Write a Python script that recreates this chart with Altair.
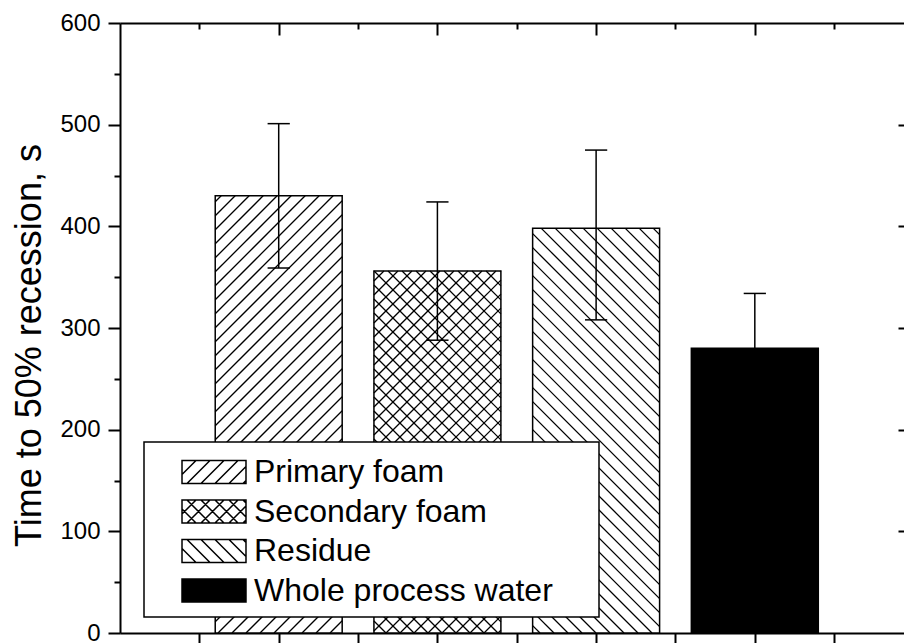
import altair as alt
import numpy as np
import pandas as pd

# Time to 50 % foam recession for each process-water fraction
categories = ["Primary foam", "Secondary foam", "Residue", "Whole process water"]
mean_time = [430, 356, 398, 280]
err_upper = [71, 68, 77, 54]
err_lower = [71, 68, 90, 54]
bar_position = [1, 2, 3, 4]
bar_fill = ["white", "white", "white", "black"]
hatch_style = ["forward", "cross", "backward", "none"]

# axis ticks
y_major = [0, 100, 200, 300, 400, 500, 600]
y_minor = [50, 150, 250, 350, 450, 550]
x_major = [1, 2, 3, 4]
x_minor = [0.5, 1.5, 2.5, 3.5, 4.5]
x_all = sorted(x_major + x_minor)

X_DOMAIN = [0, 4.94]
Y_DOMAIN = [0, 600]
PLOT_W, PLOT_H = 784, 610
BAR_HALF = 0.4      # half bar width in x units
CAP_HALF = 0.07     # half error-cap width in x units
HATCH_STEP = 14.0   # horizontal distance between hatch lines, px
FONT = "Liberation Sans, Arial, sans-serif"

px_x = PLOT_W / (X_DOMAIN[1] - X_DOMAIN[0])
px_y = PLOT_H / (Y_DOMAIN[1] - Y_DOMAIN[0])


def hatch_lines(x_lo, x_hi, top, direction):
    """45-degree hatch segments clipped to a bar, returned in data units."""
    u0, u1, h = x_lo * px_x, x_hi * px_x, top * px_y
    out = []
    if direction == "forward":
        k0 = int(np.floor((u0 - h) / HATCH_STEP))
        k1 = int(np.ceil(u1 / HATCH_STEP))
        for k in range(k0, k1 + 1):
            c = k * HATCH_STEP
            lo, hi = max(u0, c), min(u1, c + h)
            if hi - lo > 0.5:
                out.append((lo / px_x, (lo - c) / px_y, hi / px_x, (hi - c) / px_y))
    else:
        k0 = int(np.floor(u0 / HATCH_STEP))
        k1 = int(np.ceil((u1 + h) / HATCH_STEP))
        for k in range(k0, k1 + 1):
            c = k * HATCH_STEP
            lo, hi = max(u0, c - h), min(u1, c)
            if hi - lo > 0.5:
                out.append((lo / px_x, (c - lo) / px_y, hi / px_x, (c - hi) / px_y))
    return out


# bars
bars = pd.DataFrame({
    "cat": categories,
    "pos": bar_position,
    "mean": mean_time,
    "fillc": bar_fill,
})
bars["lo"] = bars["pos"] - BAR_HALF
bars["hi"] = bars["pos"] + BAR_HALF
bars["base"] = 0

# hatch texture
rows = []
for cat, pos, m, style in zip(categories, bar_position, mean_time, hatch_style):
    dirs = {"forward": ["forward"], "backward": ["backward"],
            "cross": ["forward", "backward"], "none": []}[style]
    for d in dirs:
        for x1, y1, x2, y2 in hatch_lines(pos - BAR_HALF, pos + BAR_HALF, m, d):
            rows.append({"cat": cat, "x": x1, "y": y1, "x2": x2, "y2": y2})
hatch = pd.DataFrame(rows)

# error bars
errs = pd.DataFrame({
    "cat": categories,
    "pos": bar_position,
    "top": [m + e for m, e in zip(mean_time, err_upper)],
    "bot": [m - e for m, e in zip(mean_time, err_lower)],
})
caps = pd.concat([
    errs.assign(yc=errs["top"]),
    errs.assign(yc=errs["bot"]),
])
caps["c_lo"] = caps["pos"] - CAP_HALF
caps["c_hi"] = caps["pos"] + CAP_HALF

# legend swatches as custom symbol paths (unit = half symbol size)
SYM_R = 19.0
SW_HALF_W, SW_HALF_H = 32.0, 11.5


def swatch_path(style):
    def p(x, y):
        return f"{x / SYM_R:.3f},{y / SYM_R:.3f}"
    a, b = SW_HALF_W, SW_HALF_H
    d = f"M{p(-a, -b)}L{p(a, -b)}L{p(a, b)}L{p(-a, b)}Z"
    dirs = {"forward": [1], "backward": [-1], "cross": [1, -1], "none": []}[style]
    for sgn in dirs:
        c = -a - b
        while c <= a + b:
            lo, hi = max(-a, c - b), min(a, c + b)
            if hi - lo > 0.5:
                d += f"M{p(lo, -sgn * (lo - c))}L{p(hi, -sgn * (hi - c))}"
            c += HATCH_STEP
    return d


legend_df = pd.DataFrame({"cat": categories, "x": [-1.0] * 4, "y": [0.0] * 4})

xs = alt.Scale(domain=X_DOMAIN, nice=False, zero=False)
ys = alt.Scale(domain=Y_DOMAIN, nice=False, zero=False)

axis_common = dict(labels=False, title=None, grid=False, tickColor="black",
                   domainColor="black", tickWidth=2, domainWidth=2)

x_bottom = alt.Axis(values=x_all, tickSize=10, domain=True, **axis_common)
x_top_major = alt.Axis(orient="bottom", offset=-PLOT_H, values=x_major, tickSize=12,
                       domain=True, **axis_common)
x_top_minor = alt.Axis(orient="bottom", offset=-PLOT_H, values=x_minor, tickSize=6,
                       domain=False, **axis_common)

y_left_major = alt.Axis(
    values=y_major, tickSize=12, domain=True, grid=False,
    tickColor="black", domainColor="black", tickWidth=2, domainWidth=2,
    labelFont=FONT, labelFontSize=24, labelColor="black", labelPadding=8,
    title="Time to 50% recession, s", titleFont=FONT, titleFontSize=36,
    titleFontWeight="normal", titleColor="black", titlePadding=11, titleY=322,
)
y_left_minor = alt.Axis(orient="left", values=y_minor, tickSize=6, domain=False,
                        **axis_common)
y_right = alt.Axis(orient="left", offset=-PLOT_W, values=y_major[1:-1], tickSize=6,
                   domain=False, **axis_common)

bar_layer = alt.Chart(bars).mark_rect(stroke="black", strokeWidth=1.5).encode(
    x=alt.X("lo:Q", scale=xs, axis=x_bottom),
    x2="hi:Q",
    y=alt.Y("mean:Q", scale=ys, axis=y_left_major),
    y2="base:Q",
    fill=alt.Fill("fillc:N", scale=None),
)

hatch_layer = alt.Chart(hatch).mark_rule(color="black", strokeWidth=1.3).encode(
    x=alt.X("x:Q", scale=xs, axis=x_top_major),
    x2="x2:Q",
    y=alt.Y("y:Q", scale=ys, axis=y_left_minor),
    y2="y2:Q",
)

err_layer = alt.Chart(errs).mark_rule(color="black", strokeWidth=1.5).encode(
    x=alt.X("pos:Q", scale=xs, axis=x_top_minor),
    y=alt.Y("bot:Q", scale=ys, axis=y_right),
    y2="top:Q",
)

cap_layer = alt.Chart(caps).mark_rule(color="black", strokeWidth=1.5).encode(
    x=alt.X("c_lo:Q", scale=xs, axis=None),
    x2="c_hi:Q",
    y=alt.Y("yc:Q", scale=ys, axis=None),
)

# the label ends in a zero-width space so the padding spaces are not trimmed
legend_layer = alt.Chart(legend_df).mark_point(
    filled=True, stroke="black", strokeWidth=1.5, opacity=1, size=SYM_R ** 2 * 4, clip=True
).encode(
    x=alt.X("x:Q", scale=xs, axis=None),
    y=alt.Y("y:Q", scale=ys, axis=None),
    fill=alt.Fill("cat:N", sort=categories,
                  scale=alt.Scale(domain=categories, range=bar_fill)),
    shape=alt.Shape(
        "cat:N", sort=categories,
        scale=alt.Scale(domain=categories, range=[swatch_path(s) for s in hatch_style]),
        legend=alt.Legend(
            title=None, orient="none", legendX=24, legendY=419,
            symbolSize=SYM_R ** 2 * 4, symbolStrokeWidth=1.5, symbolStrokeColor="black",
            symbolOpacity=1, symbolOffset=40, labelOffset=20,
            labelExpr="datum.label + '\u00a0\u00a0\u00a0\u00a0\u200b'",
            labelFont=FONT, labelFontSize=32, labelColor="black", labelLimit=0,
            rowPadding=3.5, padding=10, strokeColor="black", fillColor="white",
            cornerRadius=0,
        ),
    ),
)

chart = alt.layer(
    bar_layer, hatch_layer, err_layer, cap_layer, legend_layer
).resolve_axis(
    x="independent", y="independent"
).properties(
    width=PLOT_W, height=PLOT_H,
    autosize=alt.AutoSizeParams(type="none"),
    padding={"left": 120, "top": 23, "right": 0, "bottom": 10},
    background="white",
).configure_view(stroke=None).configure_legend(strokeWidth=1.5)

chart.save("out.html", embed_options={"renderer": "svg", "actions": False})
